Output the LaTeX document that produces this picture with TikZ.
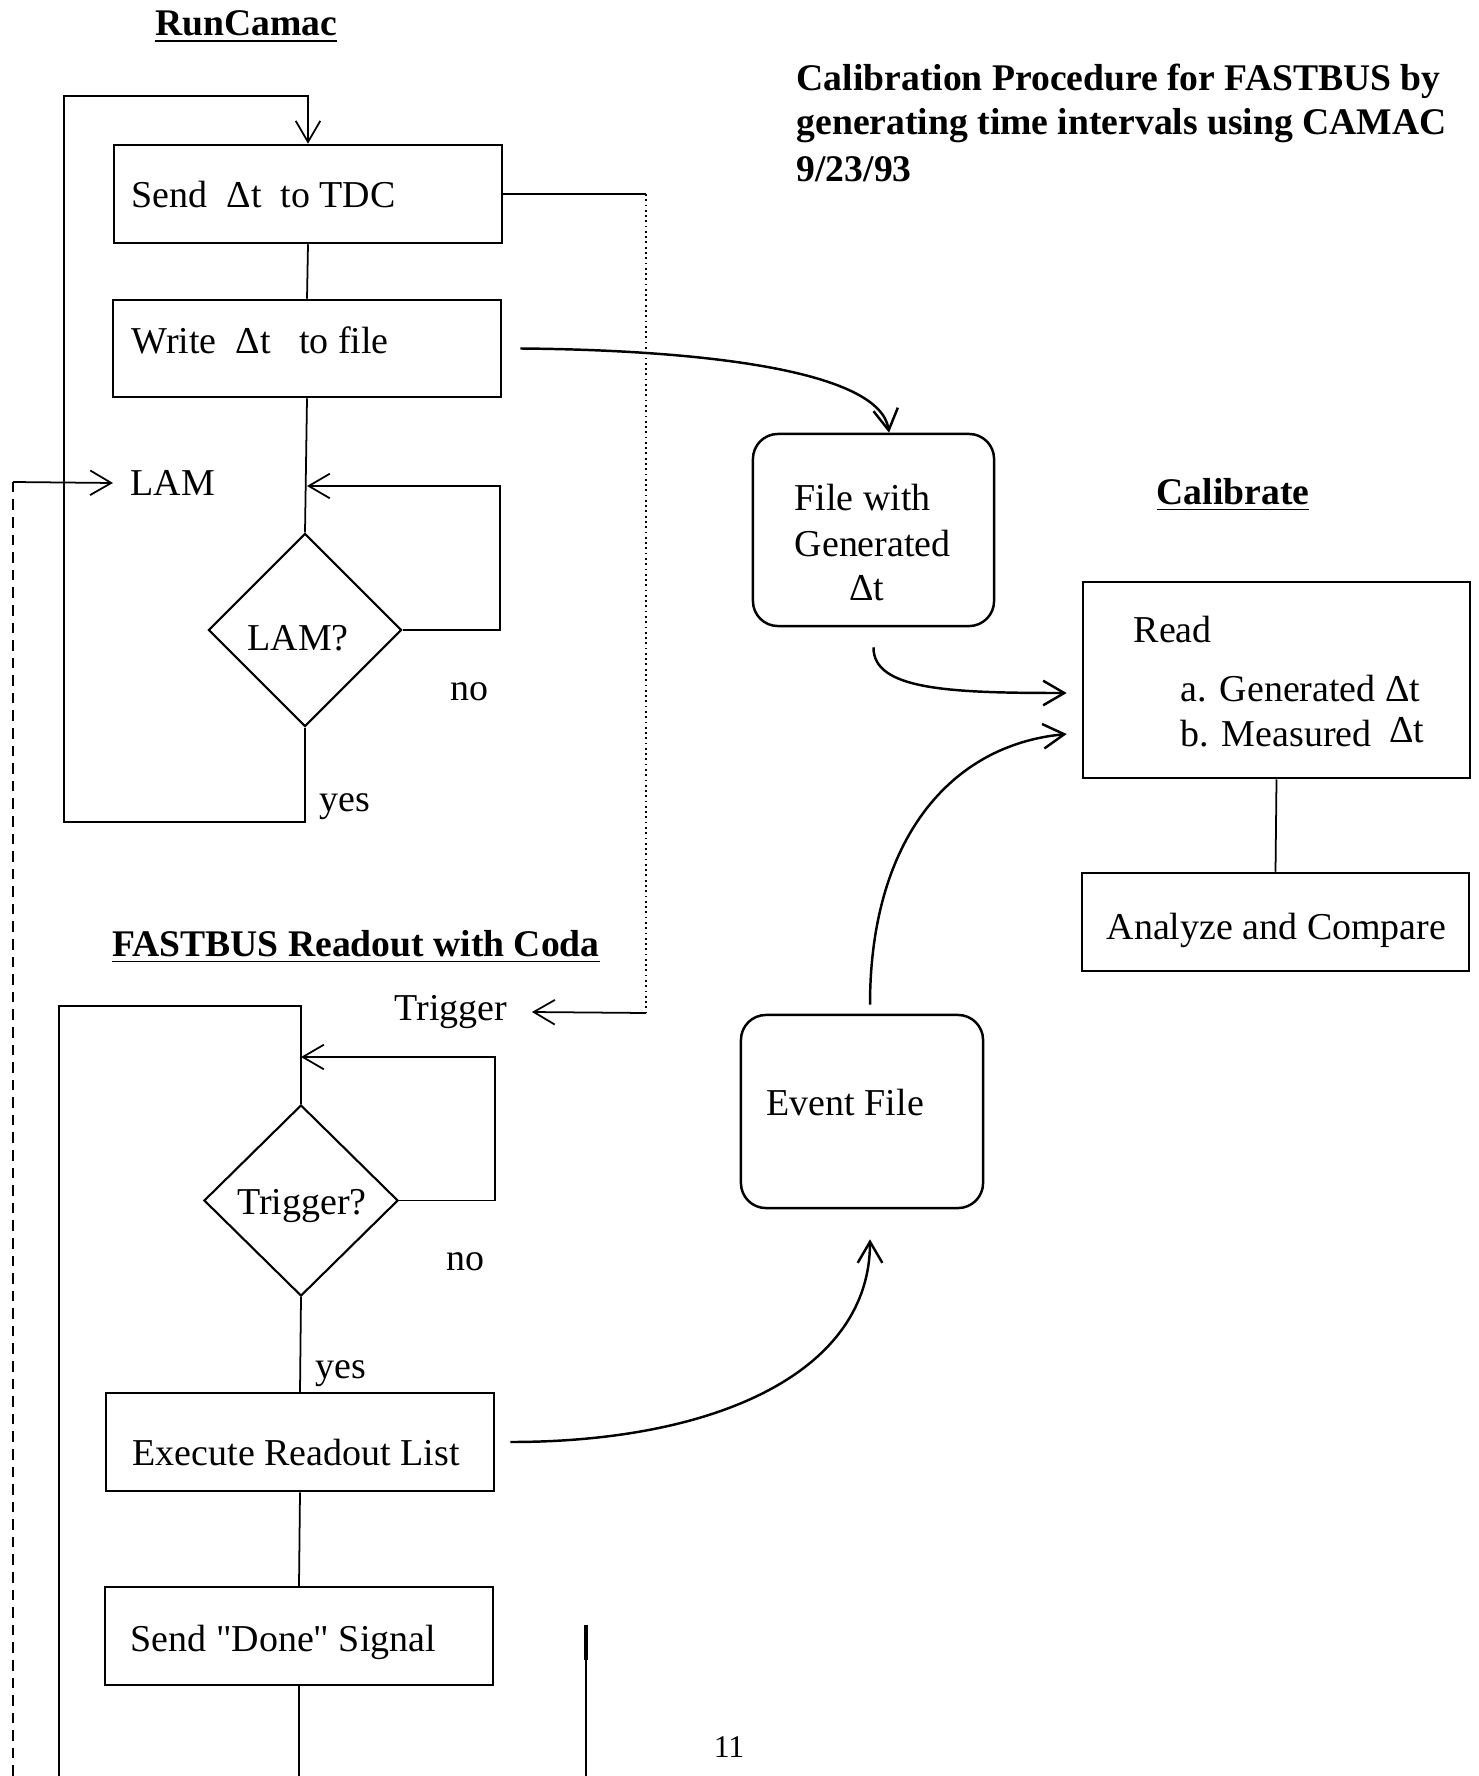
\documentclass[tikz,border=0pt]{standalone}
\usepackage{fontspec}
\setmainfont{Liberation Serif}
\newfontfamily\plainserif{Liberation Serif}
\usetikzlibrary{shapes.geometric,arrows.meta}
\begin{document}
\begin{tikzpicture}[x=0.01cm,y=-0.01cm,
  box/.style={draw,line width=0.7pt,inner sep=0pt},
  rbox/.style={draw,line width=0.7pt,inner sep=0pt,rounded corners=0.25cm},
  dia/.style={draw,line width=0.6pt,shape=diamond,aspect=1,inner sep=0pt,font=\bodyfont},
  txt/.style={inner sep=0pt,font=\bodyfont},
  ttl/.style={inner sep=0pt,font=\ttlfont},
  conn/.style={line width=0.5pt},
  curv/.style={line width=0.7pt},
  arr/.style={-{Straight Barb[length=6pt,width=7pt]}},
  dotline/.style={line width=0.5pt,densely dotted},
  dashline/.style={line width=0.45pt,densely dashed}]
\newcommand\bodyfont{\plainserif\fontsize{10.8}{13}\selectfont}
\newcommand\ttlfont{\fontsize{10.7}{13}\selectfont\bfseries}
\useasboundingbox (0,0) rectangle (1479,1776);
% titles
\node[ttl] (t1) at (246,27) {\underline{RunCamac}};
\node[ttl,anchor=west] (h1) at (796,81) {Calibration Procedure for FASTBUS by};
\node[ttl,anchor=west] (h2) at (796,126) {generating time intervals using CAMAC};
\node[ttl,anchor=west] (h3) at (796,169) {9/23/93};
\node[ttl] (t2) at (356,947) {\underline{FASTBUS Readout with Coda}};
\node[ttl] (t3) at (1233,495) {\underline{Calibrate}};
% RunCamac boxes
\node[box,minimum width=3.88cm,minimum height=0.98cm] (send) at (308,194) {};
\node[txt,anchor=west] (sendt) at (131,195) {Send\ \ Δt\ \ to TDC};
\node[box,minimum width=3.88cm,minimum height=0.97cm] (write) at (307,348.5) {};
\node[txt,anchor=west] (writet) at (131,340) {Write\ \ Δt\ \ \ to file};
\node[txt,anchor=west] (lamt) at (130,483) {LAM};
\node[dia,minimum width=1.93cm,minimum height=1.93cm] (lamq) at (305,630) {};
\node[txt] (lamqt) at (298,638) {LAM?};
\node[txt] (no1) at (469,692) {no};
\node[txt] (yes1) at (345,807) {yes};
% FASTBUS
\node[txt,anchor=west] (trigt) at (394,1012) {Trigger};
\node[dia,minimum width=1.94cm,minimum height=1.91cm] (trigq) at (301,1200.5) {};
\node[txt] (trigqt) at (302,1206) {Trigger?};
\node[txt] (no2) at (465,1262) {no};
\node[txt] (yes2) at (341,1374) {yes};
\node[box,minimum width=3.88cm,minimum height=0.98cm] (exec) at (300,1442) {};
\node[txt,anchor=west] (exect) at (132,1452) {Execute Readout List};
\node[box,minimum width=3.88cm,minimum height=0.98cm] (done) at (299,1636) {};
\node[txt,anchor=west] (donet) at (130,1642) {Send "Done" Signal};
% right side
\node[rbox,minimum width=2.41cm,minimum height=1.92cm] (filegen) at (873.5,530) {};
\node[txt,anchor=west] (fg1) at (794,498) {File with};
\node[txt,anchor=west] (fg2) at (794,544) {Generated};
\node[txt] (fg3) at (867,588) {Δt};
\node[box,minimum width=3.87cm,minimum height=1.96cm] (read) at (1276.5,680) {};
\node[txt,anchor=west] (rd0) at (1133,630) {Read};
\node[txt,anchor=west] (rda) at (1180,689) {a. Generated Δt};
\node[txt,anchor=west] (rdb) at (1180,734) {b. Measured};
\node[txt,anchor=east] (rdbt) at (1425,730) {Δt};
\node[box,minimum width=3.87cm,minimum height=0.98cm] (anal) at (1275.5,922) {};
\node[txt,anchor=west] (analt) at (1106,930) {Analyze and Compare};
\node[rbox,minimum width=2.42cm,minimum height=1.93cm] (event) at (862,1111.5) {};
\node[txt,anchor=west] (eventt) at (766,1102) {Event File};
\node[inner sep=0pt,font=\fontsize{9}{11}\selectfont] (pg) at (729,1747) {11};
% coordinates
\coordinate (bl) at (64,822);
\coordinate (tl) at (64,96);
\coordinate (fbl) at (59,1776);
\coordinate (fbt) at (59,1006);
\coordinate (dashbot) at (13,1776);
\coordinate (dashtop) at (13,482);
\coordinate (dotc1) at (646,194);
\coordinate (dotc2) at (646,1013);
\coordinate (donebot) at (299,1776);
\coordinate (bar1) at (586,1625);
\coordinate (bar2) at (586,1660);
\coordinate (bar3) at (586,1776);
% RunCamac connectors
\draw[conn,arr] (lamq.south) -- (lamq.south |- bl) -- (bl) -- (tl) -- (send.north |- tl) -- (send.north);
\draw[conn] (send.south) -- (write.north);
\draw[conn] (write.south) -- (lamq.north);
\draw[conn,arr] (lamq.east) -- (500,630) -- (500,486) -- (write.south |- 0,486);
% signal lines
\draw[conn] (send.east) -- (dotc1);
\draw[dotline] (dotc1) -- (dotc2);
\draw[conn,arr] (dotc2) -- ([xshift=0.24cm]trigt.east);
\draw[dashline] (dashbot) -- (dashtop);
\draw[conn,arr] (dashtop) -- ([xshift=-0.17cm]lamt.west);
% FASTBUS connectors
\draw[conn] (fbl) -- (fbt) -- (trigq.north |- fbt) -- (trigq.north);
\draw[conn,arr] (trigq.east) -- (495,1200.5) -- (495,1057) -- (trigq.north |- 0,1057);
\draw[conn] (trigq.south) -- (exec.north);
\draw[conn] (exec.south) -- (done.north);
\draw[conn] (done.south) -- (donebot);
\draw[line width=1.2pt] (bar1) -- (bar2);
\draw[line width=0.5pt] (bar2) -- (bar3);
% Calibrate connector
\draw[conn] (read.south) -- (anal.north);
% curves
\draw[curv,arr] ([xshift=0.18cm]write.east) .. controls (700,350) and (880,370) .. ([xshift=0.155cm]filegen.north);
\draw[curv,arr] ([yshift=-0.2cm]filegen.south) .. controls (873,690) and (950,693) .. ([xshift=-0.15cm,yshift=-0.13cm]read.west);
\draw[curv,arr] ([xshift=0.08cm,yshift=0.09cm]event.north) .. controls (870,840) and (950,745) .. ([xshift=-0.15cm,yshift=-0.54cm]read.west);
\draw[curv,arr] ([xshift=0.15cm]exec.east) .. controls (720,1442) and (870,1370) .. ([xshift=0.08cm,yshift=-0.3cm]event.south);
\end{tikzpicture}
\end{document}
